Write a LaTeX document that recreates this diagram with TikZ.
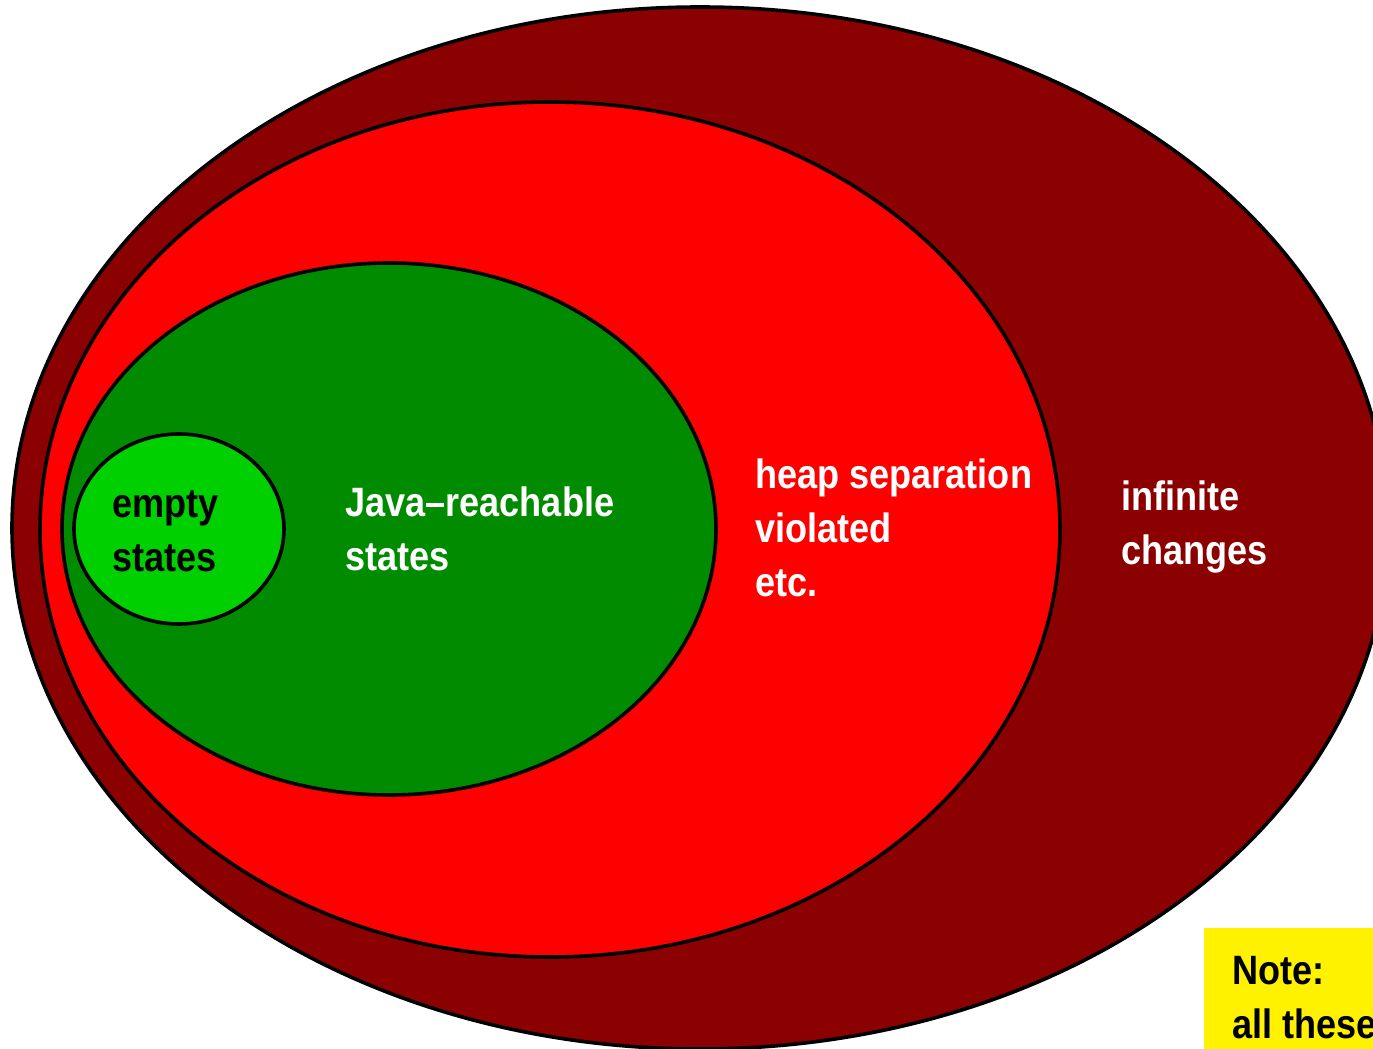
\documentclass[tikz,border=0pt]{standalone}
\usepackage{fontspec}
\setmainfont[FakeStretch=0.88]{Liberation Sans}
\usetikzlibrary{shapes.geometric}
\definecolor{outerred}{RGB}{139,0,0}
\definecolor{innerred}{RGB}{255,0,0}
\definecolor{darkgreen}{RGB}{0,139,0}
\definecolor{lightgreen}{RGB}{0,208,0}
\begin{document}
\begin{tikzpicture}[x=0.5pt,y=-0.5pt]
\tikzset{region style/.style={shape=ellipse,draw=black,line width=1.8pt,inner sep=0pt},
         text style/.style={anchor=base west,align=left,inner sep=0pt,
                            font=\fontsize{20.5}{27}\selectfont\bfseries}}
\useasboundingbox (0,0) rectangle (1373,1049);

\node[region style,fill=outerred,minimum width=688pt,minimum height=521pt]   at (700,528)   (inf)   {};
\node[region style,fill=innerred,minimum width=510pt,minimum height=427.5pt] at (550,529.5) (heap)  {};
\node[region style,fill=darkgreen,minimum width=327pt,minimum height=266pt]  at (389,529)   (java)  {};
\node[region style,fill=lightgreen,minimum width=105pt,minimum height=95pt]  at (179,529)   (empty) {};

% base anchor sits on the last line
\node[text style,text=black] at (112,571)  (emptytext) {empty\\states};
\node[text style,text=white] at (345,570)  (javatext)  {Java--reachable\\states};
\node[text style,text=white] at (755,596)  (heaptext)  {heap separation\\violated\\etc.};
\node[text style,text=white] at (1121,564) (inftext)   {infinite\\changes};

\node[text style,anchor=north west,fill=yellow,inner xsep=14pt,inner ysep=14pt]
     at (1204,928) (note) {Note:\\all these};
\end{tikzpicture}
\end{document}
